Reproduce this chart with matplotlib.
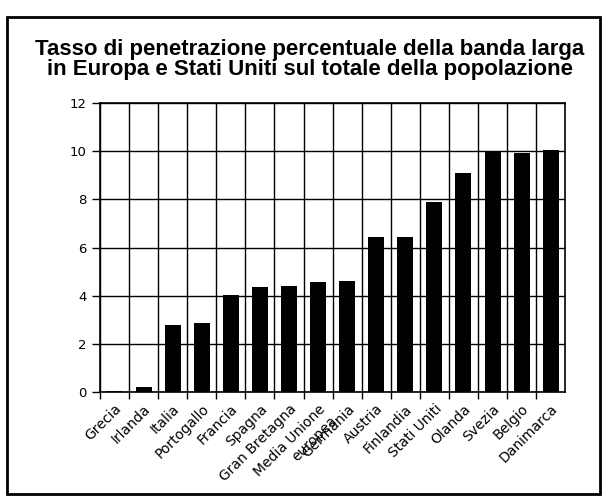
import matplotlib
matplotlib.use('Agg')
from matplotlib import pyplot as plt
from matplotlib.patches import Rectangle
import numpy as np

countries = ['Grecia', 'Irlanda', 'Italia', 'Portogallo', 'Francia', 'Spagna',
             'Gran Bretagna', 'Media Unione\neuropea', 'Germania', 'Austria',
             'Finlandia', 'Stati Uniti', 'Olanda', 'Svezia', 'Belgio', 'Danimarca']
values = [0.03, 0.2, 2.8, 2.85, 4.05, 4.35, 4.4, 4.55, 4.6, 6.45,
          6.45, 7.9, 9.1, 10.0, 9.9, 10.05]
yticks = [0, 2, 4, 6, 8, 10, 12]

fig = plt.figure(figsize=(6.02, 4.99), dpi=100)
ax = fig.add_axes([0.166, 0.214, 0.773, 0.58])

x = np.arange(len(countries))
ax.bar(x, values, width=0.55, color='black', zorder=3)

ax.set_xlim(-0.5, len(countries) - 0.5)
ax.set_ylim(0, 12)
ax.set_yticks(yticks)
ax.tick_params(axis='y', labelsize=9.5, length=6, width=1)

# grid lines between categories
ax.set_xticks(x - 0.5, minor=True)
ax.set_xticks(x)
ax.set_xticklabels(countries, rotation=45, ha='right', rotation_mode='anchor',
                   fontsize=10)
ax.tick_params(axis='x', which='major', length=0, pad=7)
ax.tick_params(axis='x', which='minor', length=5, width=1)
ax.grid(axis='x', which='minor', color='black', linewidth=1)
ax.grid(axis='y', which='major', color='black', linewidth=1)
for s in ax.spines.values():
    s.set_linewidth(1.2)

fig.text(0.515, 0.88, 'Tasso di penetrazione percentuale della banda larga\n'
         'in Europa e Stati Uniti sul totale della popolazione',
         ha='center', va='center', fontsize=16, fontweight='bold',
         family='Liberation Sans', linespacing=0.95)

fig.patches.append(Rectangle((0.012, 0.01), 0.985, 0.955, transform=fig.transFigure,
                             fill=False, edgecolor='black', linewidth=2))

fig.savefig('out.png', dpi=100)
